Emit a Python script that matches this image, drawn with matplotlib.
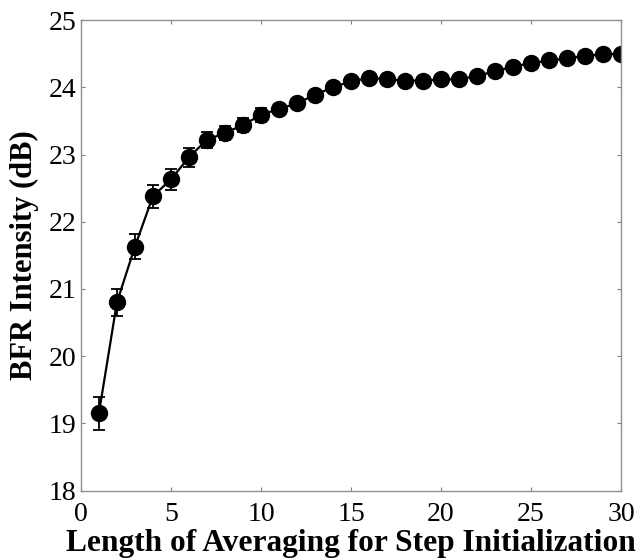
import matplotlib.pyplot as plt
import numpy as np

# averaging length vs. mean BFR intensity with standard error
avg_len = list(range(1, 31))
bfr_db = [19.15, 20.80, 21.63, 22.38, 22.63, 22.96, 23.22, 23.32, 23.44, 23.59,
          23.68, 23.76, 23.89, 24.00, 24.09, 24.14, 24.12, 24.10, 24.10, 24.12,
          24.12, 24.17, 24.24, 24.31, 24.36, 24.40, 24.43, 24.47, 24.49, 24.50]
bfr_err = [0.245, 0.20, 0.19, 0.17, 0.16, 0.145, 0.115, 0.11, 0.10, 0.10,
           0.07, 0.06, 0.05, 0.04, 0.04, 0.03, 0.03, 0.03, 0.03, 0.03,
           0.03, 0.03, 0.03, 0.03, 0.03, 0.03, 0.03, 0.03, 0.03, 0.03]
xticks = [0, 5, 10, 15, 20, 25, 30]
yticks = [18, 19, 20, 21, 22, 23, 24, 25]

plt.rcParams['font.family'] = ['Liberation Serif', 'DejaVu Serif']

fig = plt.figure(figsize=(6.37, 5.6), dpi=100)
ax = fig.add_axes([0.127, 0.124, 0.848, 0.840])

ax.errorbar(avg_len, bfr_db, yerr=bfr_err, color='black', marker='o',
            markersize=11.5, linewidth=1.6, elinewidth=1.3, capsize=4, capthick=1.3)

ax.set_xlim(0, 30)
ax.set_ylim(18, 25)
ax.set_xticks(xticks)
ax.set_yticks(yticks)
ax.tick_params(direction='in', top=True, right=True, length=3, width=0.8,
               color='#808080', labelsize=20)
ax.tick_params(axis='x', pad=8)
ax.tick_params(axis='y', pad=3)
for sp in ax.spines.values():
    sp.set_color('#909090')
    sp.set_linewidth(1.0)

ax.set_xlabel('Length of Averaging for Step Initialization', fontsize=22.6,
              fontweight='bold', labelpad=2)
ax.set_ylabel('BFR Intensity (dB)', fontsize=22, fontweight='bold', labelpad=7)

fig.savefig('out.png', dpi=100)
